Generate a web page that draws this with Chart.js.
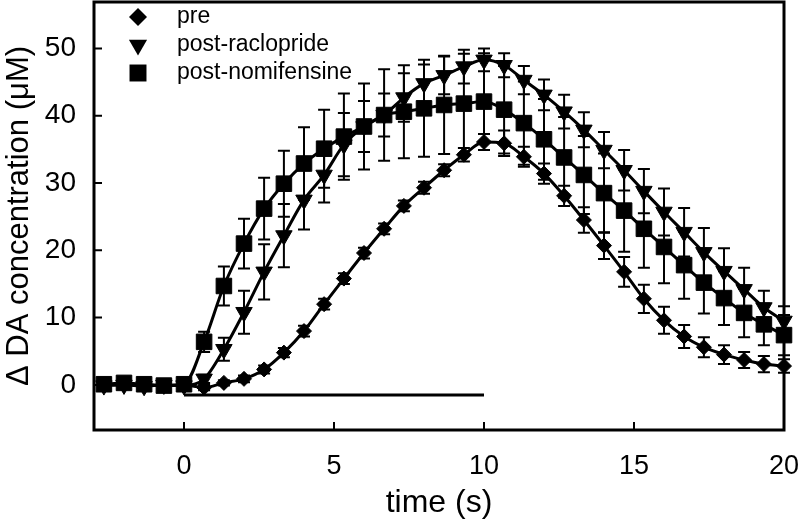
<!DOCTYPE html>
<html>
<head>
<meta charset="utf-8">
<script src="https://cdn.jsdelivr.net/npm/chart.js@4.4.0/dist/chart.umd.min.js"></script>
<style>
  html, body { margin: 0; padding: 0; background: #fff; }
  #wrap { width: 800px; height: 519px; }
</style>
</head>
<body>
<div id="wrap"><canvas id="daChart"></canvas></div>
<script>
// sample times (s)
var times = [-2.67, -2, -1.33, -0.67, 0,
  0.67, 1.33, 2, 2.67, 3.33, 4, 4.67, 5.33, 6, 6.67, 7.33, 8, 8.67, 9.33, 10,
  10.67, 11.33, 12, 12.67, 13.33, 14, 14.67, 15.33, 16, 16.67, 17.33, 18, 18.67, 19.33, 20];

// pre
var preValues = [0, 0.1, 0, -0.1, 0,
  -0.4, 0.3, 0.9, 2.3, 4.8, 8.0, 12.0, 15.8, 19.6, 23.2, 26.6, 29.3, 31.9, 34.2, 36.1,
  35.9, 33.9, 31.4, 28.1, 24.5, 20.7, 16.8, 12.8, 9.6, 7.2, 5.6, 4.5, 3.7, 3.1, 2.8];
var preErrors = [0.3, 0.3, 0.3, 0.3, 0.3,
  0.4, 0.4, 0.5, 0.6, 0.7, 0.8, 0.8, 0.8, 0.8, 0.8, 0.8, 0.9, 0.9, 1.0, 1.2,
  1.9, 1.5, 1.5, 1.5, 1.9, 2.0, 2.2, 2.1, 2.0, 1.7, 1.5, 1.4, 1.2, 1.2, 1.0];

// post-raclopride
var raclValues = [-0.1, 0, -0.2, 0, -0.1,
  0.9, 5.3, 10.8, 16.8, 22.2, 27.5, 31.2, 35.7, 38.4, 40.1, 42.7, 44.8, 46.0, 47.3, 48.3,
  47.5, 45.3, 43.1, 40.6, 37.9, 34.9, 31.9, 28.8, 25.7, 22.7, 19.7, 16.9, 14.2, 11.5, 9.5];
var raclErrors = [0.3, 0.3, 0.3, 0.3, 0.3,
  0.6, 1.7, 3.2, 4.1, 4.7, 4.4, 4.1, 4.7, 3.8, 3.2, 3.6, 2.8, 2.8, 2.5, 1.7,
  1.8, 2.1, 2.3, 2.5, 2.6, 2.7, 3.0, 3.3, 3.5, 3.6, 3.6, 3.4, 3.2, 2.5, 2.2];

// post-nomifensine
var nomiValues = [0.1, 0.3, 0.1, -0.1, 0.1,
  6.4, 14.7, 21.0, 26.2, 29.9, 32.9, 35.1, 36.9, 38.4, 40.1, 40.6, 41.1, 41.6, 41.8, 42.1,
  40.9, 38.9, 36.5, 33.8, 31.2, 28.5, 25.9, 23.2, 20.5, 17.8, 15.2, 12.9, 10.7, 9.0, 7.4];
var nomiErrors = [0.3, 0.3, 0.3, 0.3, 0.3,
  1.5, 2.9, 3.7, 4.6, 4.9, 5.4, 5.8, 6.4, 6.4, 6.8, 6.9, 7.2, 7.3, 7.4, 7.2,
  6.5, 6.2, 6.0, 6.0, 5.8, 5.9, 6.1, 5.8, 5.4, 5.0, 4.6, 4.0, 3.6, 3.1, 3.0];

// stimulation bar
var stimTimes = [0, 10];
var stimLevel = -1.5;

var seriesNames = ['pre', 'post-raclopride', 'post-nomifensine'];
var xTicks = [0, 5, 10, 15, 20];
var yTicks = [0, 10, 20, 30, 40, 50];

var FONT = '"Liberation Sans", Arial, Helvetica, sans-serif';
Chart.defaults.font.family = FONT;
Chart.defaults.color = '#000';

function toPoints(xs, ys) {
  return xs.map(function(x, i) { return { x: x, y: ys[i] }; });
}

function seriesDataset(label, values, errors, style) {
  var ds = {
    label: label,
    data: toPoints(times, values),
    errors: errors,
    borderColor: '#000',
    backgroundColor: '#000',
    borderWidth: 3,
    cubicInterpolationMode: 'monotone',
    pointBackgroundColor: '#000',
    pointBorderColor: '#000',
    pointBorderWidth: 1,
    clip: false
  };
  if (style === 'diamond') { ds.pointStyle = 'rectRot'; ds.pointRadius = 7.5; }
  if (style === 'triangle') { ds.pointStyle = 'triangle'; ds.pointRotation = 180; ds.pointRadius = 9.5; }
  if (style === 'square') { ds.pointStyle = 'rect'; ds.pointRadius = 11; }
  return ds;
}

function drawMarker(ctx, style, cx, cy, r) {
  ctx.beginPath();
  if (style === 'diamond') {
    ctx.moveTo(cx, cy - r); ctx.lineTo(cx + r, cy); ctx.lineTo(cx, cy + r); ctx.lineTo(cx - r, cy);
  } else if (style === 'triangle') {
    ctx.moveTo(cx - r * 0.866, cy - r * 0.5); ctx.lineTo(cx + r * 0.866, cy - r * 0.5); ctx.lineTo(cx, cy + r);
  } else {
    var s = r * 0.707;
    ctx.rect(cx - s, cy - s, 2 * s, 2 * s);
  }
  ctx.closePath();
  ctx.fill();
}

// vertical error bars with caps
var errorBars = {
  id: 'errorBars',
  beforeDatasetsDraw: function(chart) {
    var ctx = chart.ctx, xs = chart.scales.x, ys = chart.scales.y;
    ctx.save();
    ctx.strokeStyle = '#000';
    ctx.lineWidth = 2;
    chart.data.datasets.forEach(function(ds) {
      if (!ds.errors) return;
      ds.data.forEach(function(p, i) {
        var e = ds.errors[i];
        var px = xs.getPixelForValue(p.x);
        var top = ys.getPixelForValue(p.y + e);
        var bot = ys.getPixelForValue(p.y - e);
        ctx.beginPath();
        ctx.moveTo(px, top); ctx.lineTo(px, bot);
        ctx.moveTo(px - 6, top); ctx.lineTo(px + 6, top);
        ctx.moveTo(px - 6, bot); ctx.lineTo(px + 6, bot);
        ctx.stroke();
      });
    });
    ctx.restore();
  }
};

// box frame, inward ticks and legend
var frame = {
  id: 'frame',
  afterDraw: function(chart) {
    var ctx = chart.ctx, a = chart.chartArea, xs = chart.scales.x, ys = chart.scales.y;
    ctx.save();
    ctx.strokeStyle = '#000';
    ctx.lineWidth = 2;
    ctx.beginPath();
    xTicks.forEach(function(v) {
      var px = xs.getPixelForValue(v);
      ctx.moveTo(px, a.bottom); ctx.lineTo(px, a.bottom - 8);
    });
    yTicks.forEach(function(v) {
      var py = ys.getPixelForValue(v);
      ctx.moveTo(a.left, py); ctx.lineTo(a.left + 8, py);
    });
    ctx.stroke();
    ctx.lineWidth = 3;
    ctx.strokeRect(a.left, a.top, a.right - a.left, a.bottom - a.top);

    // legend
    ctx.fillStyle = '#000';
    ctx.font = '23px ' + FONT;
    ctx.textBaseline = 'middle';
    ctx.textAlign = 'left';
    var styles = ['diamond', 'triangle', 'square'];
    var sizes = [9, 10.5, 12];
    seriesNames.forEach(function(name, i) {
      var cy = 17 + i * 28;
      drawMarker(ctx, styles[i], 138, cy, sizes[i]);
      ctx.fillText(name, 177, cy);
    });
    ctx.restore();
  }
};

function noPadding(scale) {
  scale.paddingTop = 0;
  scale.paddingBottom = 0;
  scale.paddingLeft = 0;
  scale.paddingRight = 0;
}

var datasets = [
  seriesDataset(seriesNames[0], preValues, preErrors, 'diamond'),
  seriesDataset(seriesNames[1], raclValues, raclErrors, 'triangle'),
  seriesDataset(seriesNames[2], nomiValues, nomiErrors, 'square'),
  {
    label: 'stimulation',
    data: toPoints(stimTimes, [stimLevel, stimLevel]),
    borderColor: '#000',
    borderWidth: 3,
    pointRadius: 0
  }
];

var ctx = document.getElementById('daChart').getContext('2d');
var chart = new Chart(ctx, {
  type: 'line',
  data: { datasets: datasets },
  plugins: [errorBars, frame],
  options: {
    responsive: true,
    maintainAspectRatio: false,
    animation: false,
    events: [],
    layout: { autoPadding: false, padding: { top: 2, right: 16, left: 0, bottom: 0 } },
    plugins: {
      legend: { display: false },
      tooltip: { enabled: false }
    },
    scales: {
      x: {
        type: 'linear',
        min: -3,
        max: 20,
        grid: { display: false, drawTicks: false },
        border: { display: false },
        afterBuildTicks: function(scale) {
          scale.ticks = xTicks.map(function(v) { return { value: v }; });
        },
        afterFit: function(scale) { scale.height = 89; noPadding(scale); },
        ticks: { font: { size: 27 }, padding: 20, maxRotation: 0 },
        title: { display: true, text: 'time (s)', font: { size: 32, lineHeight: 1.0 }, padding: 0 }
      },
      y: {
        min: -6.7,
        max: 56.9,
        grid: { display: false, drawTicks: false },
        border: { display: false },
        afterBuildTicks: function(scale) {
          scale.ticks = yTicks.map(function(v) { return { value: v }; });
        },
        afterFit: function(scale) { scale.width = 94; noPadding(scale); },
        ticks: { font: { size: 28 }, padding: 18 },
        title: { display: true, text: 'Δ DA concentration (μM)', font: { size: 31 }, padding: 1 }
      }
    }
  }
});
</script>
</body>
</html>
